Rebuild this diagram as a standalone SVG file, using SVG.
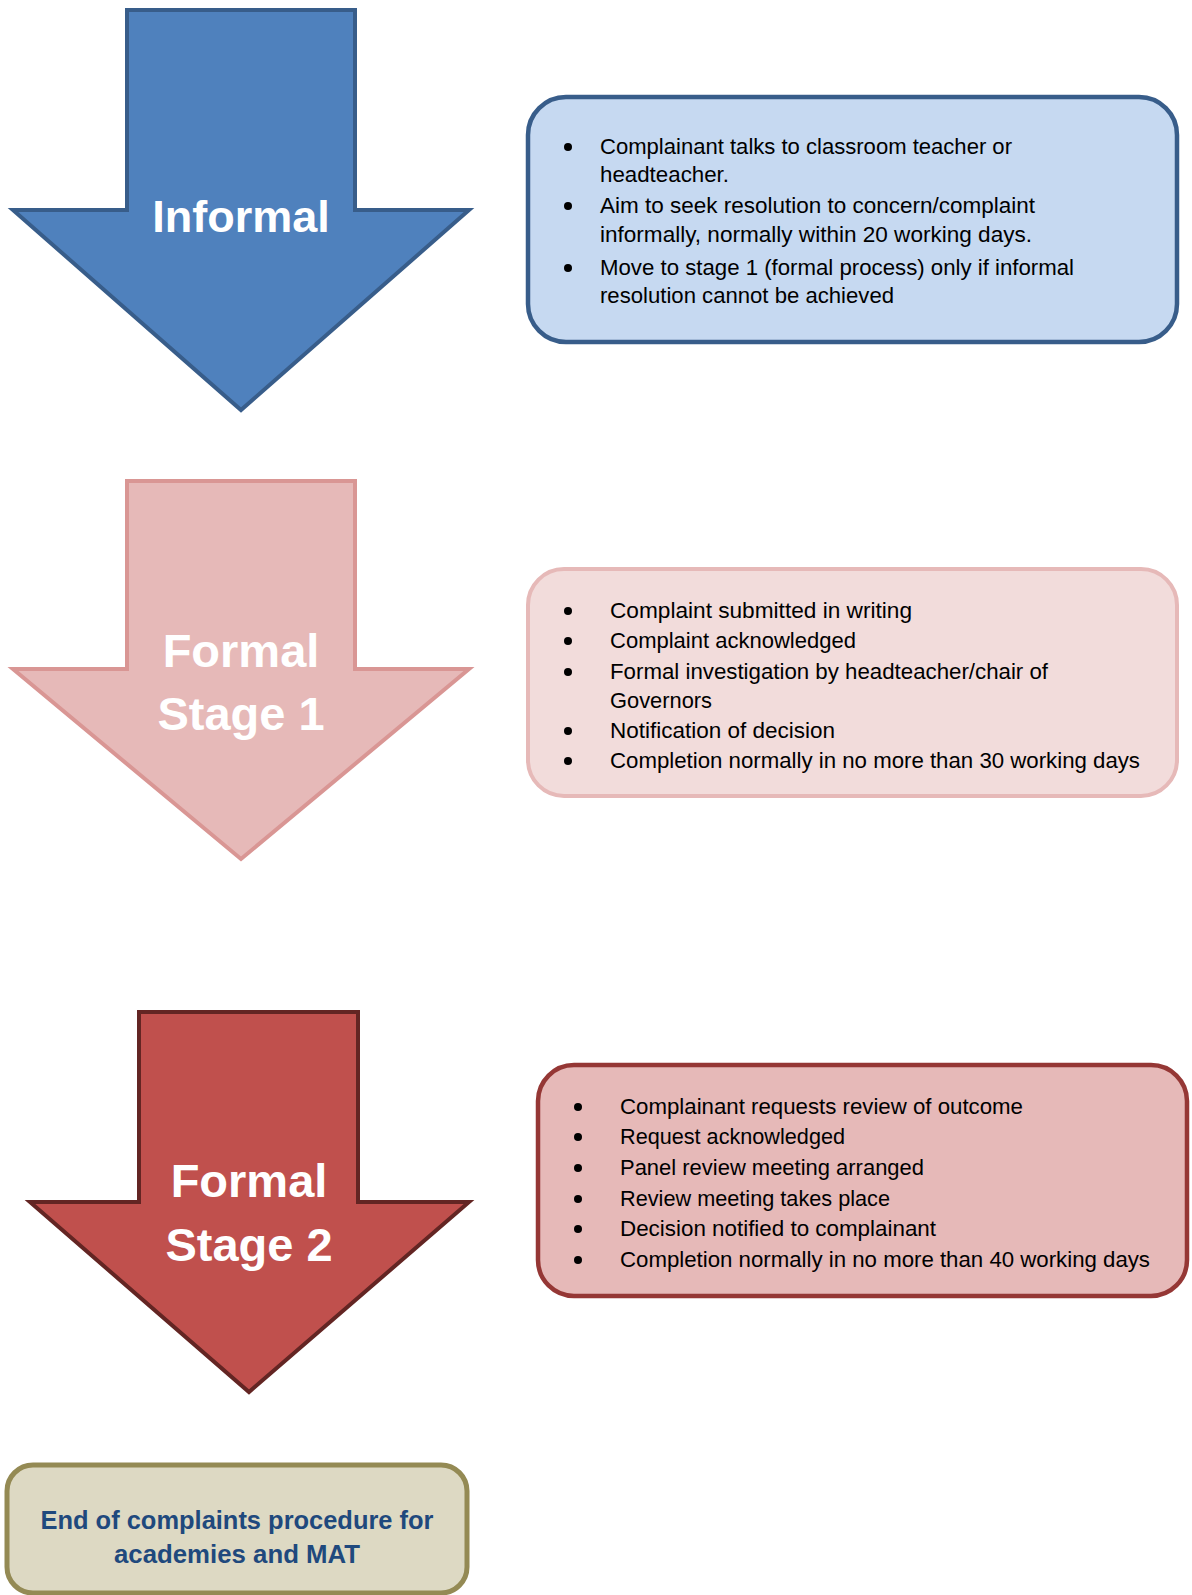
<svg xmlns="http://www.w3.org/2000/svg" width="1192" height="1595" viewBox="0 0 1192 1595">
<style>
.arrowtxt{font-family:"Liberation Sans",Arial,sans-serif;font-weight:bold;fill:#FFFFFF;text-anchor:middle}
.body{font-family:"Liberation Sans",Arial,sans-serif;font-size:22px;fill:#000000}
.end{font-family:"Liberation Sans",Arial,sans-serif;font-weight:bold;font-size:25px;fill:#1F497D;text-anchor:middle}
.bullet{fill:#000000}
</style>
<rect x="0" y="0" width="1192" height="1595" fill="#FFFFFF"/>
<g id="informal-arrow">
<polygon points="127,10 355,10 355,210 469,210 241,410 13,210 127,210" fill="#4F81BD" stroke="#385D8A" stroke-width="4" stroke-linejoin="miter"/>
<text class="arrowtxt" x="241" y="232" font-size="45">Informal</text>
</g>
<g id="informal-box">
<rect x="528" y="97" width="649" height="245" rx="38" ry="38" fill="#C6D9F1" stroke="#385D8A" stroke-width="4.5"/>
<circle class="bullet" cx="568" cy="147" r="4"/>
<circle class="bullet" cx="568" cy="206" r="4"/>
<circle class="bullet" cx="568" cy="268" r="4"/>
<text class="body" x="600" y="154" textLength="412" lengthAdjust="spacingAndGlyphs">Complainant talks to classroom teacher or</text>
<text class="body" x="600" y="182" textLength="129" lengthAdjust="spacingAndGlyphs">headteacher.</text>
<text class="body" x="600" y="213" textLength="435" lengthAdjust="spacingAndGlyphs">Aim to seek resolution to concern/complaint</text>
<text class="body" x="600" y="242" textLength="432" lengthAdjust="spacingAndGlyphs">informally, normally within 20 working days.</text>
<text class="body" x="600" y="275" textLength="474" lengthAdjust="spacingAndGlyphs">Move to stage 1 (formal process) only if informal</text>
<text class="body" x="600" y="303" textLength="294" lengthAdjust="spacingAndGlyphs">resolution cannot be achieved</text>
</g>
<g id="stage1-arrow">
<polygon points="127,481 355,481 355,669 469,669 241,859 13,669 127,669" fill="#E6B9B8" stroke="#D99694" stroke-width="4" stroke-linejoin="miter"/>
<text class="arrowtxt" x="241" y="667" font-size="47">Formal</text>
<text class="arrowtxt" x="241" y="730" font-size="47">Stage 1</text>
</g>
<g id="stage1-box">
<rect x="528" y="569" width="649" height="227" rx="36" ry="36" fill="#F2DCDB" stroke="#E6B9B8" stroke-width="4"/>
<circle class="bullet" cx="568" cy="611" r="4"/>
<circle class="bullet" cx="568" cy="641" r="4"/>
<circle class="bullet" cx="568" cy="672" r="4"/>
<circle class="bullet" cx="568" cy="731" r="4"/>
<circle class="bullet" cx="568" cy="761" r="4"/>
<text class="body" x="610" y="618" textLength="302" lengthAdjust="spacingAndGlyphs">Complaint submitted in writing</text>
<text class="body" x="610" y="648" textLength="246" lengthAdjust="spacingAndGlyphs">Complaint acknowledged</text>
<text class="body" x="610" y="679" textLength="438" lengthAdjust="spacingAndGlyphs">Formal investigation by headteacher/chair of</text>
<text class="body" x="610" y="708" textLength="102" lengthAdjust="spacingAndGlyphs">Governors</text>
<text class="body" x="610" y="738" textLength="225" lengthAdjust="spacingAndGlyphs">Notification of decision</text>
<text class="body" x="610" y="768" textLength="530" lengthAdjust="spacingAndGlyphs">Completion normally in no more than 30 working days</text>
</g>
<g id="stage2-arrow">
<polygon points="139,1012 358,1012 358,1202 469,1202 249,1392 30,1202 139,1202" fill="#C0504D" stroke="#632523" stroke-width="4" stroke-linejoin="miter"/>
<text class="arrowtxt" x="249" y="1197" font-size="47">Formal</text>
<text class="arrowtxt" x="249" y="1261" font-size="47">Stage 2</text>
</g>
<g id="stage2-box">
<rect x="538" y="1065" width="649" height="231" rx="36" ry="36" fill="#E6B9B8" stroke="#953735" stroke-width="4.5"/>
<circle class="bullet" cx="578" cy="1107" r="4"/>
<circle class="bullet" cx="578" cy="1137" r="4"/>
<circle class="bullet" cx="578" cy="1168" r="4"/>
<circle class="bullet" cx="578" cy="1199" r="4"/>
<circle class="bullet" cx="578" cy="1229" r="4"/>
<circle class="bullet" cx="578" cy="1260" r="4"/>
<text class="body" x="620" y="1114" textLength="403" lengthAdjust="spacingAndGlyphs">Complainant requests review of outcome</text>
<text class="body" x="620" y="1144" textLength="225" lengthAdjust="spacingAndGlyphs">Request acknowledged</text>
<text class="body" x="620" y="1175" textLength="304" lengthAdjust="spacingAndGlyphs">Panel review meeting arranged</text>
<text class="body" x="620" y="1206" textLength="270" lengthAdjust="spacingAndGlyphs">Review meeting takes place</text>
<text class="body" x="620" y="1236" textLength="316" lengthAdjust="spacingAndGlyphs">Decision notified to complainant</text>
<text class="body" x="620" y="1267" textLength="530" lengthAdjust="spacingAndGlyphs">Completion normally in no more than 40 working days</text>
</g>
<g id="end-box">
<rect x="7" y="1465" width="460" height="128" rx="26" ry="26" fill="#DDD9C3" stroke="#948A54" stroke-width="5"/>
<text class="end" x="237" y="1529" textLength="393" lengthAdjust="spacingAndGlyphs">End of complaints procedure for</text>
<text class="end" x="237" y="1563" textLength="246" lengthAdjust="spacingAndGlyphs">academies and MAT</text>
</g>
<g id="connectors"></g>
</svg>
